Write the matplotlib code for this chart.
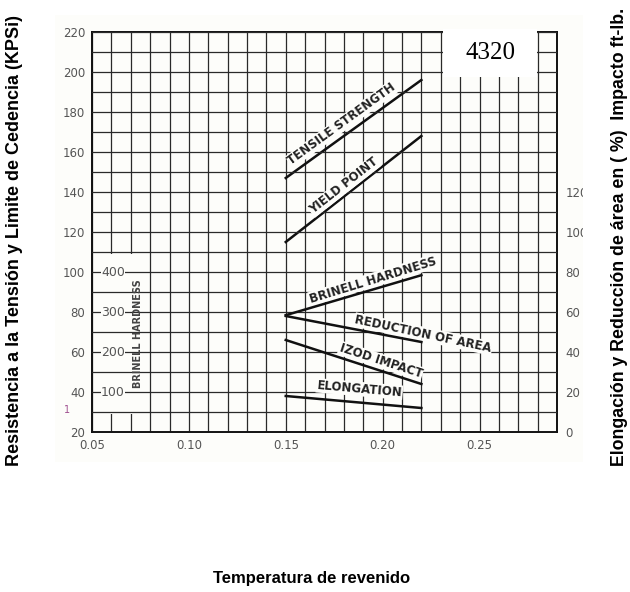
import matplotlib.pyplot as plt
from matplotlib.patches import Rectangle

# datos (acero 4320)
temp = [0.15, 0.22]
tensile = [147, 196]        # KPSi
yield_pt = [115, 168]       # KPSi
brinell = [292, 392]        # HB
reduccion = [58, 45]        # %
izod = [46, 24]             # ft-lb
elongacion = [18, 12]       # %

xticks = [0.05, 0.10, 0.15, 0.20, 0.25]
yticks_izq = list(range(20, 221, 20))
yticks_der = list(range(0, 121, 20))
brinell_ticks = [100, 200, 300, 400]

fondo = "#fdfdfa"

fig = plt.figure(figsize=(6.3, 5.92), dpi=100)
# zona del escaneo
fig.patches.append(Rectangle((55 / 630, 1 - 462 / 592), 528 / 630, 447 / 592,
                             transform=fig.transFigure, fc=fondo, ec="none", zorder=-1))

ax = fig.add_axes([92 / 630, 1 - 432 / 592, 465 / 630, 400 / 592])
ax.set_facecolor(fondo)

ax.set_xlim(0.05, 0.29)
ax.set_ylim(20, 220)
ax.set_xticks(xticks)
ax.set_xticklabels([f"{t:.2f}" for t in xticks])
ax.set_xticks([0.05 + 0.01 * i for i in range(25)], minor=True)
ax.set_yticks(yticks_izq)
ax.set_yticks(range(20, 221, 10), minor=True)
ax.grid(which="both", color="#2a2a2a", lw=0.9)
ax.tick_params(which="both", length=0, labelsize=8.5, labelcolor="#555555", pad=5)
for s in ax.spines.values():
    s.set_linewidth(1.4)
    s.set_color("#111111")

# columna de la escala Brinell: tapa las verticales, no las horizontales
ax.xaxis.set_zorder(0.5)
ax.yaxis.set_zorder(2.5)
ax.add_patch(Rectangle((0.0515, 29), 0.026, 80, fc=fondo, ec="none", zorder=1))

# eje derecho: elongacion, reduccion de area, impacto
ax_p = ax.twinx()
ax_p.set_ylim(0, 200)
ax_p.set_yticks(yticks_der)
ax_p.tick_params(length=0, labelsize=8.5, labelcolor="#555555", pad=6)
for s in ax_p.spines.values():
    s.set_visible(False)

# eje interno para la dureza Brinell
ax_b = ax.twinx()
ax_b.set_ylim(0, 1000)
ax_b.axis("off")

lw = 1.8
ax.plot(temp, tensile, color="#111111", lw=lw)
ax.plot(temp, yield_pt, color="#111111", lw=lw)
ax_b.plot(temp, brinell, color="#111111", lw=lw)
ax_p.plot(temp, reduccion, color="#111111", lw=lw)
ax_p.plot(temp, izod, color="#111111", lw=lw)
ax_p.plot(temp, elongacion, color="#111111", lw=lw)

lab = dict(fontsize=8.5, fontweight="bold", color="#222222", ha="center", va="center",
           bbox=dict(fc=fondo, ec="none", pad=0.5))
ax.text(0.179, 174, "TENSILE STRENGTH", rotation=36, **lab)
ax.text(0.180, 143, "YIELD POINT", rotation=38, **lab)
ax.text(0.195, 96, "BRINELL HARDNESS", rotation=17, **lab)
ax.text(0.221, 69, "REDUCTION OF AREA", rotation=-12, **lab)
ax.text(0.199, 55.5, "IZOD IMPACT", rotation=-18, **lab)
ax.text(0.188, 41.5, "ELONGATION", rotation=-5, **lab)

for b in brinell_ticks:
    ax_b.text(0.0608, b, str(b), fontsize=9, color="#555555", ha="center", va="center",
              bbox=dict(fc=fondo, ec="none", pad=0.3))
ax.text(0.0737, 69, "BRINELL HARDNESS", rotation=90, fontsize=7, fontweight="bold",
        color="#444444", ha="center", va="center")

# recuadro con la designacion del acero
ax_b.add_patch(Rectangle((0.755, 0.8875), 0.202, 0.12, transform=ax_b.transAxes,
                         fc="white", ec="none", clip_on=False, zorder=5))
ax_b.text(0.856, 0.947, "4320", transform=ax_b.transAxes, fontsize=18,
          family="Liberation Serif", ha="center", va="center", zorder=6)

# borde del escaneo que corta las etiquetas derechas
fig.patches.append(Rectangle((583 / 630, 0.2), 22 / 630, 0.5, transform=fig.transFigure,
                             fc="white", ec="none", zorder=2))
fig.text(67 / 630, 1 - 410 / 592, "1", fontsize=7, color="#a05090", ha="center", va="center")

fuente = ["Liberation Sans Narrow", "Liberation Sans", "DejaVu Sans"]
fig.text(15 / 630, 1 - 240 / 592, "Resistencia a la Tensión y Limite de Cedencia (KPSi)",
         rotation=90, fontsize=13, fontweight="bold", family=["Liberation Sans", "DejaVu Sans"],
         ha="center", va="center")
fig.text(619 / 630, 1 - 237 / 592, "Elongación y Reducción de área en ( %)  Impacto ft-lb.",
         rotation=90, fontsize=12.8, fontweight="bold", family=["Liberation Sans", "DejaVu Sans"],
         ha="center", va="center")
fig.text(312 / 630, 1 - 578 / 592, "Temperatura de revenido", fontsize=12,
         fontweight="bold", family=fuente, ha="center", va="center")

plt.savefig("out.png", dpi=100)
